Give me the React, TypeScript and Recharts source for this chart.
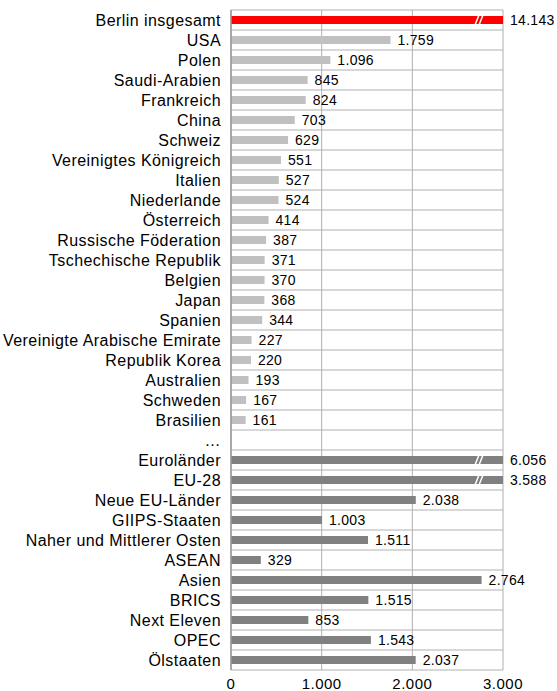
import React from "react";
import {
  BarChart,
  Bar,
  XAxis,
  YAxis,
  CartesianGrid,
  LabelList,
  Cell,
} from "recharts";

// Kategorien (von oben nach unten)
const categories = [
  "Berlin insgesamt",
  "USA",
  "Polen",
  "Saudi-Arabien",
  "Frankreich",
  "China",
  "Schweiz",
  "Vereinigtes Königreich",
  "Italien",
  "Niederlande",
  "Österreich",
  "Russische Föderation",
  "Tschechische Republik",
  "Belgien",
  "Japan",
  "Spanien",
  "Vereinigte Arabische Emirate",
  "Republik Korea",
  "Australien",
  "Schweden",
  "Brasilien",
  "…",
  "Euroländer",
  "EU-28",
  "Neue EU-Länder",
  "GIIPS-Staaten",
  "Naher und Mittlerer Osten",
  "ASEAN",
  "Asien",
  "BRICS",
  "Next Eleven",
  "OPEC",
  "Ölstaaten",
];

const values: (number | null)[] = [
  14143, 1759, 1096, 845, 824, 703, 629, 551, 527, 524, 414, 387, 371, 370,
  368, 344, 227, 220, 193, 167, 161, null, 6056, 3588, 2038, 1003, 1511, 329,
  2764, 1515, 853, 1543, 2037,
];

// 0 = gesamt, 1 = Land, 2 = Ländergruppe
const groups = [
  0, 1, 1, 1, 1, 1, 1, 1, 1, 1, 1, 1, 1, 1, 1, 1, 1, 1, 1, 1, 1, 1, 2, 2, 2,
  2, 2, 2, 2, 2, 2, 2, 2,
];

const xTicks = [0, 1000, 2000, 3000];

const AXIS_MAX = 3000;
const GROUP_COLORS = ["#ff0000", "#c0c0c0", "#808080"];
const FONT = "'Liberation Sans', Arial, sans-serif";

const WIDTH = 557;
const HEIGHT = 691;
const MARGIN = { top: 10, right: 54, bottom: 0, left: 0 };
const X_AXIS_HEIGHT = 21;

const data = categories.map((name, i) => ({
  name,
  value: values[i],
  plot: values[i] === null ? null : Math.min(values[i] as number, AXIS_MAX),
  group: groups[i],
}));

const fmt = (v: number | null | undefined) =>
  v === null || v === undefined
    ? ""
    : String(Math.round(v)).replace(/\B(?=(\d{3})+(?!\d))/g, ".");

// Balken mit Achsenbruch-Zeichen "//" für Werte über dem Achsenmaximum
const BrokenBar = (props: any) => {
  const { x, y, width, height, fill, payload } = props;
  if (!width || width <= 0) return null;
  const broken = payload && payload.value > AXIS_MAX;
  const bx = x + width - 28;
  return (
    <g>
      <rect x={x} y={y} width={width} height={height} fill={fill} />
      {broken && (
        <g stroke="#ffffff" strokeWidth={1.5}>
          <line x1={bx} y1={y + height + 1} x2={bx + 4} y2={y - 1} />
          <line x1={bx + 4} y1={y + height + 1} x2={bx + 8} y2={y - 1} />
        </g>
      )}
    </g>
  );
};

const horizontalLines = (props: any) => {
  const top = props?.offset?.top ?? MARGIN.top;
  const h =
    props?.offset?.height ??
    HEIGHT - MARGIN.top - MARGIN.bottom - X_AXIS_HEIGHT;
  const n = categories.length;
  return Array.from({ length: n + 1 }, (_, i) => top + (i * h) / n);
};

export default function App() {
  return (
    <div style={{ position: "fixed", left: 0, top: 0, background: "#fff" }}>
      <BarChart
        width={WIDTH}
        height={HEIGHT}
        data={data}
        layout="vertical"
        margin={MARGIN}
        style={{ fontFamily: FONT }}
      >
        <CartesianGrid
          stroke="#b0b0b0"
          horizontalCoordinatesGenerator={horizontalLines}
        />
        <XAxis
          type="number"
          domain={[0, AXIS_MAX]}
          ticks={xTicks}
          allowDataOverflow
          tickFormatter={fmt}
          axisLine={false}
          tickLine={false}
          height={X_AXIS_HEIGHT}
          tick={{
            fill: "#000",
            fontSize: 15,
            fontFamily: FONT,
            letterSpacing: 0.5,
          }}
        />
        <YAxis
          type="category"
          dataKey="name"
          width={231}
          interval={0}
          tickLine={false}
          tickMargin={4}
          axisLine={{ stroke: "#999999", strokeWidth: 1.5 }}
          tick={{
            fill: "#000",
            fontSize: 16,
            fontFamily: FONT,
            letterSpacing: 0.45,
          }}
        />
        <Bar
          dataKey="plot"
          barSize={8}
          isAnimationActive={false}
          shape={<BrokenBar />}
        >
          {data.map((d) => (
            <Cell key={d.name} fill={GROUP_COLORS[d.group]} />
          ))}
          <LabelList
            dataKey="value"
            position="right"
            offset={7}
            formatter={fmt}
            style={{
              fill: "#000",
              fontSize: 14,
              fontFamily: FONT,
              letterSpacing: 0.3,
            }}
          />
        </Bar>
      </BarChart>
    </div>
  );
}
